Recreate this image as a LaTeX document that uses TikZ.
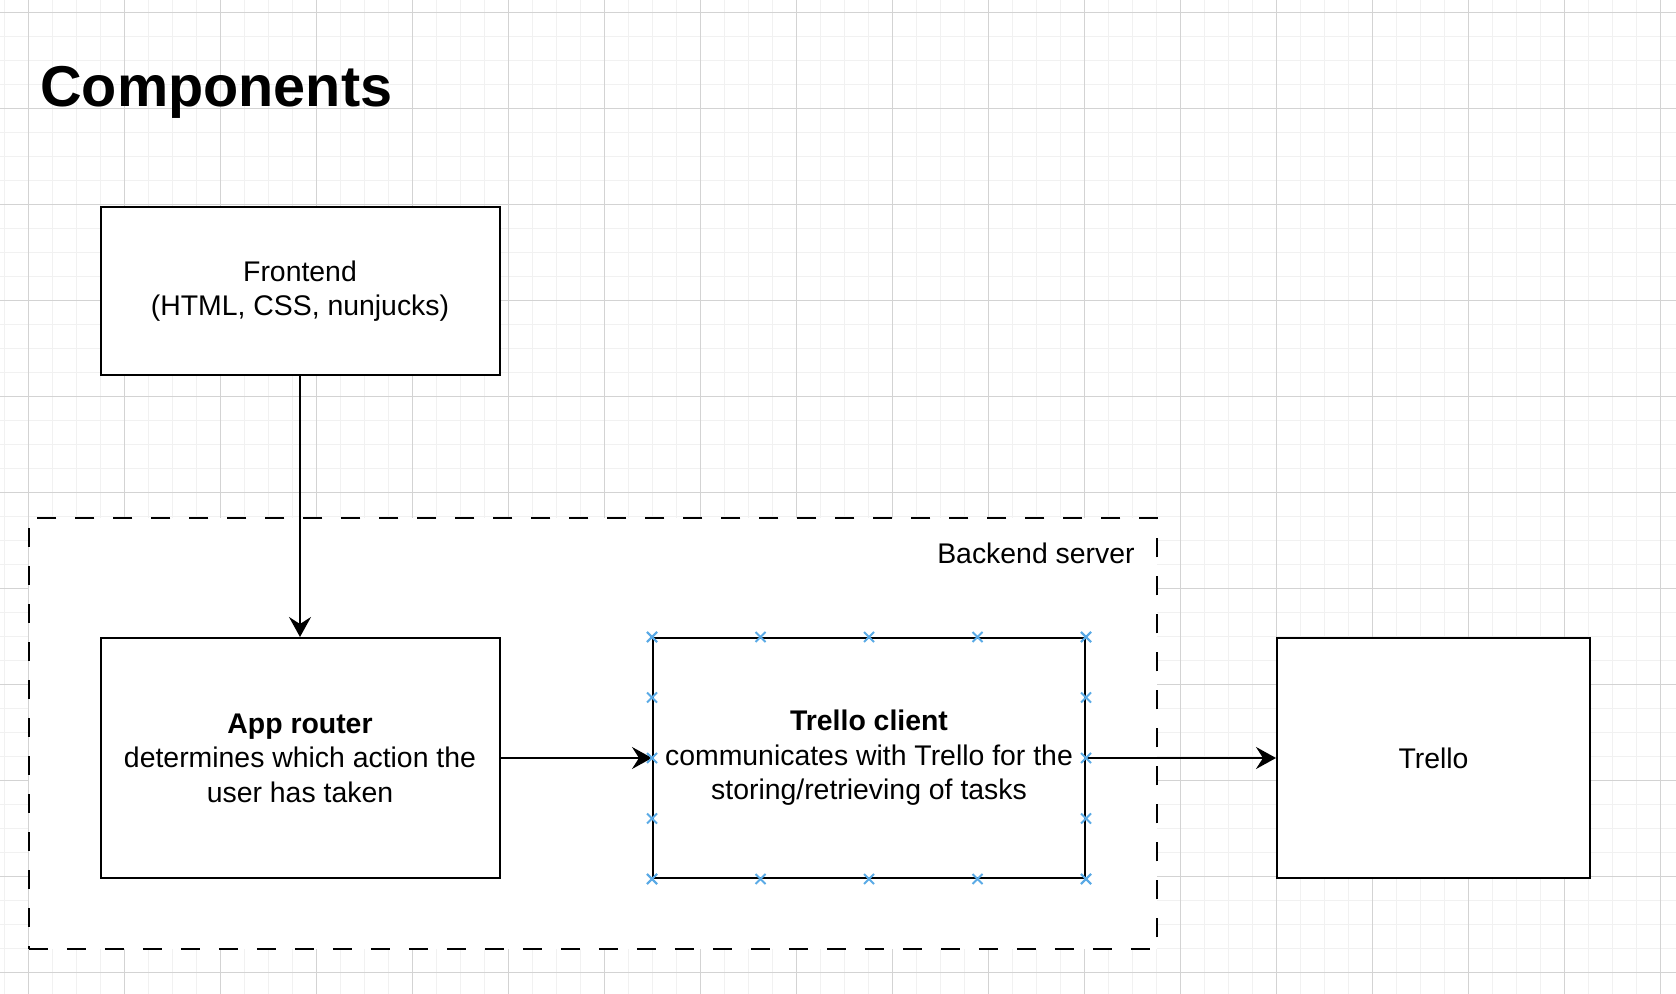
\documentclass[tikz,border=0pt]{standalone}
\usepackage{fontspec}
\setmainfont{Liberation Sans}
\usetikzlibrary{arrows.meta,calc}

\definecolor{gridminor}{HTML}{F1F1F1}
\definecolor{gridmajor}{HTML}{D3D3D3}
\definecolor{handle}{HTML}{5AAAE6}

\tikzset{
  box/.style={draw, line width=1pt, fill=white, align=center, inner sep=0pt,
    font=\fontsize{14.2}{17.2}\selectfont},
  groupbox/.style={draw, line width=1pt, fill=white, dash pattern=on 9.5pt off 9.5pt},
  arrow/.style={-{Stealth[length=10pt,width=11pt,inset=3.5pt]}, line width=1pt},
  handlemark/.style={handle, line width=0.9pt}
}

\begin{document}
\begin{tikzpicture}[x=0.5pt, y=-0.5pt]
\useasboundingbox (0,0) rectangle (1676,994);

% raster
\foreach \x in {4.3,28.3,...,1676} \draw[gridminor, line width=0.5pt] (\x,0) -- (\x,994);
\foreach \y in {12.3,36.3,...,994} \draw[gridminor, line width=0.5pt] (0,\y) -- (1676,\y);
\foreach \x in {28.3,124.3,...,1676} \draw[gridmajor, line width=0.5pt] (\x,0) -- (\x,994);
\foreach \y in {12.3,108.3,...,994} \draw[gridmajor, line width=0.5pt] (0,\y) -- (1676,\y);

\node[anchor=base west, inner sep=0pt, font=\fontsize{28.8}{34}\selectfont\bfseries] (title) at (40,107) {Components};

\node[groupbox, minimum width=564pt, minimum height=215.75pt] (backend) at (592.9,733.7) {};
\node[anchor=base east, inner sep=0pt, font=\fontsize{14.2}{17.2}\selectfont] (backendlabel) at (1135,563) {Backend server};

\node[box, minimum width=199.5pt, minimum height=84pt] (frontend) at (300,291) {Frontend\\(HTML, CSS, nunjucks)};
\node[box, minimum width=199.5pt, minimum height=120pt] (router) at (300,758) {\textbf{App router}\\determines which action the\\user has taken};
\node[box, minimum width=216pt, minimum height=120pt] (client) at (869,758) {\textbf{Trello client}\\communicates with Trello for the\\storing/retrieving of tasks};
\node[box, minimum width=156.5pt, minimum height=120pt] (trello) at (1433.5,758) {Trello};

\draw[arrow] (frontend) -- (router);
\draw[arrow] (router) -- (client);
\draw[arrow] (client) -- (trello);

% aansluitpunten
\foreach \t in {0,0.25,0.5,0.75,1}
  \foreach \p/\q in {north west/north east,south west/south east,north west/south west,north east/south east}
    \draw[handlemark] ($(client.\p)!\t!(client.\q)$) +(-5,-5) -- +(5,5) +(-5,5) -- +(5,-5);
\end{tikzpicture}
\end{document}
